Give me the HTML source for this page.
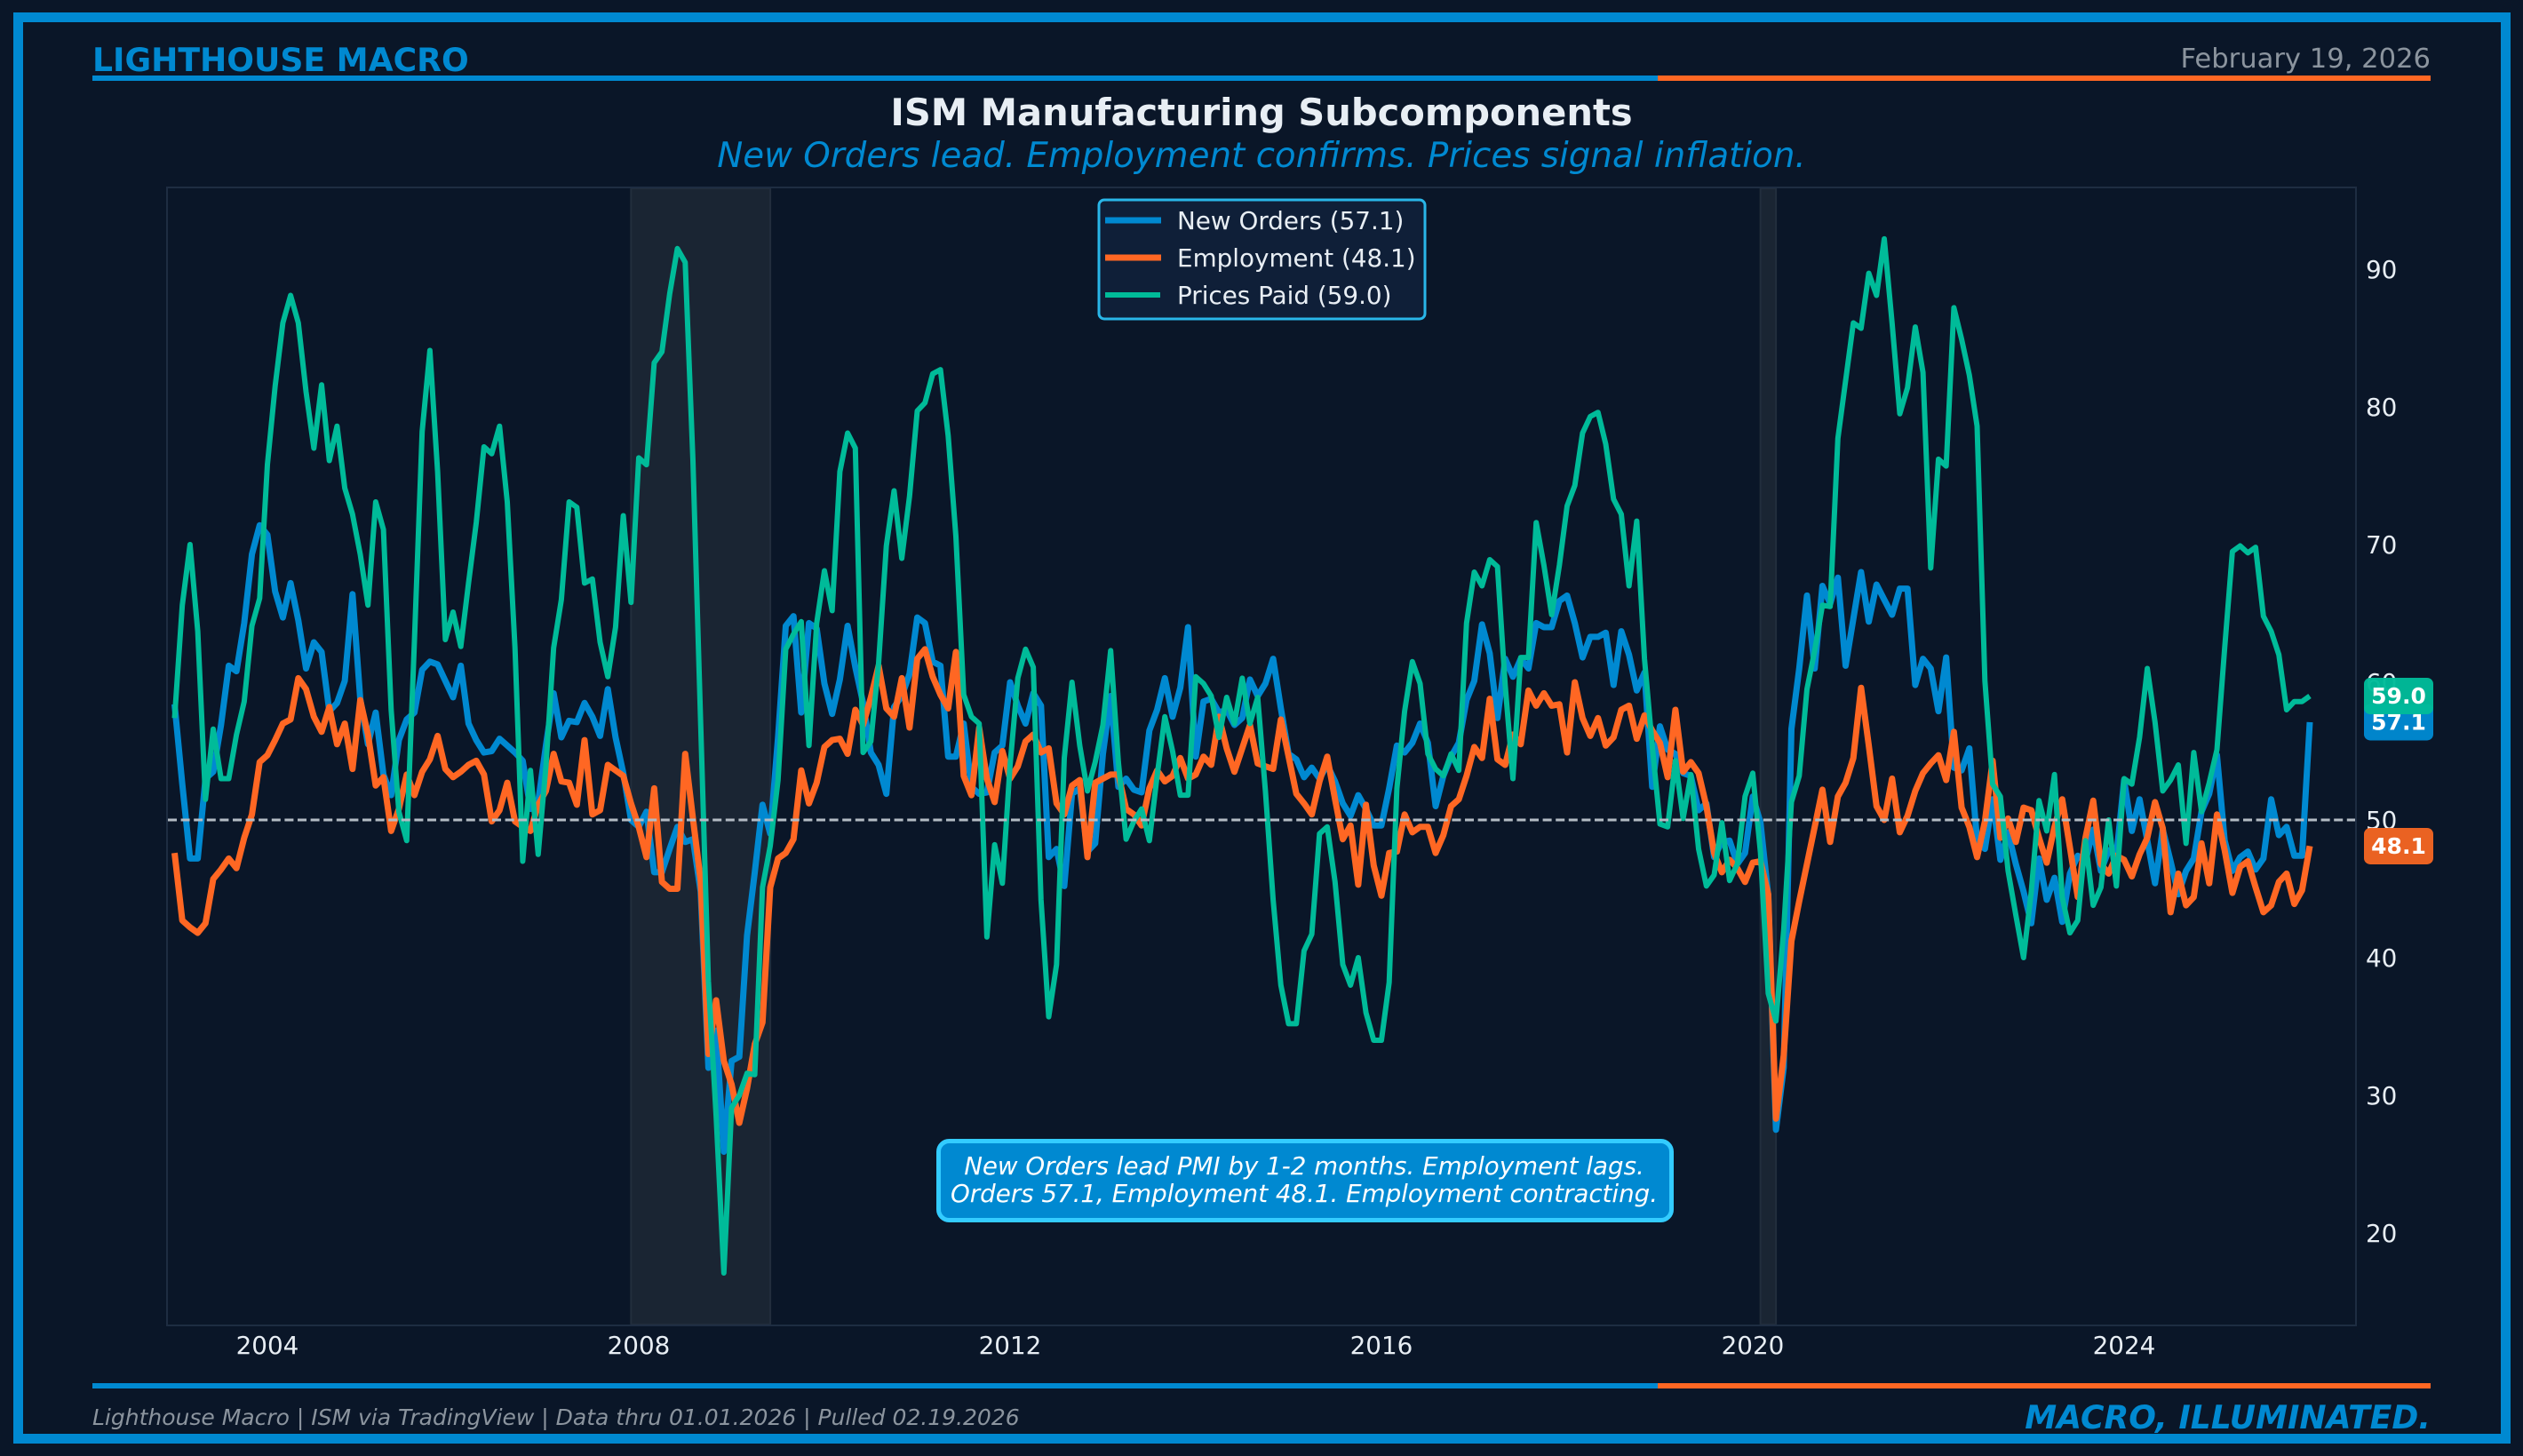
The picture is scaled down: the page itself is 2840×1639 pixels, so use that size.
<!DOCTYPE html>
<html lang="en">
<head>
<meta charset="utf-8">
<title>ISM Manufacturing Subcomponents</title>
<style>
html,body{margin:0;padding:0;background:#0a1628;}
svg{display:block;}
text{font-family:"DejaVu Sans","Liberation Sans",sans-serif;}
</style>
</head>
<body>
<svg id="chart" xmlns="http://www.w3.org/2000/svg" width="2840" height="1639" viewBox="0 0 2840 1639">
  <rect x="0" y="0" width="2840" height="1639" fill="#0a1628"/>
  <rect x="20.5" y="19.5" width="2800" height="1600" fill="none" stroke="#0089d1" stroke-width="11"/>

  <text x="104" y="80" font-size="36.15" font-weight="700" fill="#0089d1">LIGHTHOUSE MACRO</text>
  <text x="2736" y="76" font-size="30.6" text-anchor="end" fill="#8b949e">February 19, 2026</text>
  <rect x="104" y="85" width="1762" height="6" fill="#0089d1"/>
  <rect x="1866" y="85" width="870" height="6" fill="#ff6723"/>

  <text x="1420" y="141" font-size="41.6" font-weight="700" text-anchor="middle" fill="#e8eef4">ISM Manufacturing Subcomponents</text>
  <text x="1420" y="188" font-size="38.8" font-style="italic" text-anchor="middle" fill="#0089d1">New Orders lead. Employment confirms. Prices signal inflation.</text>

  <g id="recessions"></g>
  <rect x="188" y="211" width="2464" height="1281" fill="none" stroke="#1e2d42" stroke-width="2"/>
  <g id="series"></g>
  <g id="reference"></g>
  <g id="x-axis"></g>
  <g id="y-axis"></g>
  <g id="tags"></g>

  <g>
    <rect x="1237" y="225" width="367" height="134" rx="6" fill="#0f1f38" stroke="#29b6e8" stroke-width="3"/>
    <g>
      <line x1="1244" x2="1307" y1="248" y2="248" stroke="#0089d1" stroke-width="7"/>
      <text x="1325" y="258" font-size="27.8" fill="#e8eef4">New Orders (57.1)</text>
    </g>
    <g>
      <line x1="1244" x2="1307" y1="290" y2="290" stroke="#ff6723" stroke-width="7"/>
      <text x="1325" y="300" font-size="27.8" fill="#e8eef4">Employment (48.1)</text>
    </g>
    <g>
      <line x1="1244" x2="1306" y1="332" y2="332" stroke="#00bb99" stroke-width="6"/>
      <text x="1325" y="342" font-size="27.8" fill="#e8eef4">Prices Paid (59.0)</text>
    </g>
  </g>

  <g>
    <rect x="1056.5" y="1284.5" width="825" height="89" rx="12" fill="#0089d1" stroke="#33ccff" stroke-width="5"/>
    <text x="1468" y="1322" font-size="27.7" font-style="italic" text-anchor="middle" fill="#ffffff">New Orders lead PMI by 1-2 months. Employment lags.</text>
    <text x="1468" y="1353" font-size="27.7" font-style="italic" text-anchor="middle" fill="#ffffff">Orders 57.1, Employment 48.1. Employment contracting.</text>
  </g>

  <rect x="104" y="1557" width="1762" height="6" fill="#0089d1"/>
  <rect x="1866" y="1557" width="870" height="6" fill="#ff6723"/>
  <text x="104" y="1604" font-size="25" font-style="italic" fill="#8b949e">Lighthouse Macro | ISM via TradingView | Data thru 01.01.2026 | Pulled 02.19.2026</text>
  <text x="2736" y="1608" font-size="36.1" font-weight="700" font-style="italic" text-anchor="end" fill="#0089d1">MACRO, ILLUMINATED.</text>
</svg>

<script>
const startYear = 2003;
const xTickYears = [2004, 2008, 2012, 2016, 2020, 2024];
const yTickValues = [20, 30, 40, 50, 60, 70, 80, 90];
const referenceLevel = [50];
const recessionStarts = [2007.917, 2020.083];
const recessionEnds = [2009.417, 2020.25];

const newOrders = [
58.4,52.6,47.2,47.2,53,53.5,56.9,61.2,60.8,64.3,
69.3,71.4,70.7,66.6,64.7,67.2,64.5,61,62.9,62.2,
57.9,58.5,60.1,66.4,58.8,55.5,57.8,53.3,51.8,55.8,
57.3,57.8,60.9,61.5,61.3,60.1,58.9,61.2,57,55.8,
54.9,55,55.9,55.4,54.9,54.3,50.8,51.3,55.4,59.2,
56,57.2,57.1,58.5,57.5,56.1,59.5,56,53.4,50,
49.5,50.6,46.2,46.2,47.9,49.5,48.4,48.6,44.8,32,
34.7,25.9,32.5,32.8,41.6,46.2,51.1,49,56,64.1,
64.8,57.8,64.3,63.9,59.9,57.7,60.2,64.1,61.1,58.5,
54.9,54,51.9,58.2,59,60.6,64.7,64.3,61.5,61.2,
54.6,54.6,57,52.4,51.9,52,54.9,55.4,60,58.3,
57,59.2,58.3,47.3,47.9,45.2,51.9,52.3,47.7,48.3,
54.8,59,52.4,53,52.2,52,56.5,58,60.3,57.5,
59.6,64,54.6,58.6,58.8,57.8,58,56.9,57.4,60.2,
59,59.9,61.7,58.1,54.8,54.4,53.1,53.8,53,54,
52.8,51.2,50.3,51.8,50.8,49.6,49.6,52.3,55.4,54.9,
55.6,57,55.6,51,53.2,54.6,55.6,58.7,60.1,64.2,
62.1,57.4,61.7,60.4,61.7,61,64.3,64,64,65.9,
66.3,64.3,61.8,63.3,63.3,63.6,59.8,63.7,62,59.4,
60.7,52.4,56.8,55.1,54.8,53.4,53.2,50.7,51.2,47.3,
48.4,48.5,46.8,47.6,51.7,49.8,44.5,27.5,32,56.6,
61,66.3,61,67,65.7,67.6,61.2,64.6,68,64.4,
67.1,66,64.9,66.8,66.8,59.8,61.7,61,57.9,61.8,
53.8,53.6,55.2,48.5,47.9,51.5,47.1,49.1,46.8,44.8,
42.5,47.2,44.2,45.8,42.6,46.1,47.4,47,49.3,46.3,
47.8,47.4,52.9,49.2,51.5,48.5,45.4,49.3,47,44.6,
46.3,47.2,50.6,51.9,54.7,48.5,46.3,47.3,47.7,46.4,
47.2,51.5,48.9,49.5,47.4,47.4,57.1];

const employment = [
47.6,42.7,42.2,41.8,42.5,45.7,46.4,47.2,46.5,48.7,
50.4,54.2,54.7,55.8,57,57.3,60.3,59.5,57.5,56.4,
58.2,55.5,57,53.7,58.7,56.2,52.5,53.1,49.2,50.8,
53.3,51.8,53.5,54.4,56.1,53.7,53.1,53.5,54,54.3,
53.3,49.9,50.7,52.7,49.9,49.5,49.2,51.1,52.1,54.8,
52.8,52.7,51.1,55.8,50.4,50.7,54,53.6,53.2,51.2,
49.5,47.3,52.3,45.5,45,45,54.8,50.1,45.6,33,
36.9,32.5,30.8,28,30.5,33.7,35.3,45.1,47.2,47.6,
48.6,53.6,51.2,52.7,55.3,55.8,55.9,54.8,58,56.9,
58.9,61.2,58.1,57.5,60.3,56.7,61.7,62.4,60.4,59.1,
58.1,62.2,53.2,51.8,56.7,53,51.3,55,53,53.9,
55.7,56.2,54.9,55.2,51.2,50.4,52.5,52.9,47.3,52.7,
53,53.3,53.3,50.8,50.4,49.6,52.3,53.6,52.8,53.2,
54.5,53,53.3,54.6,54,57.5,55.2,53.5,55.2,56.9,
54.1,53.9,53.7,57.3,54.6,51.9,51.2,50.4,52.8,54.6,
51.5,48.6,49.6,45.3,51.1,46.7,44.5,47.6,47.7,50.4,
49.1,49.5,49.5,47.6,48.9,51,51.5,53.2,55.3,54.5,
58.8,54.4,54,56.2,55.5,59.4,58.3,59.2,58.3,58.4,
54.9,60,57.4,56.1,57.4,55.4,56,58,58.3,55.9,
57.6,56.5,55.6,53.1,58,53.5,54.2,53.4,51,47.6,
46.2,47.1,46.5,45.5,46.9,47,44.6,28.3,32.9,41.2,
44.1,46.8,49.5,52.2,48.4,51.7,52.7,54.5,59.6,55.4,
51,50,53,49.1,50.3,52.1,53.4,54.1,54.7,52.9,
56.4,50.9,49.5,47.3,49.9,54.3,48.7,50.1,48.4,50.9,
50.7,48.7,46.9,49.5,51.5,48,44.4,48.7,51.4,46.8,
46.1,47.4,47.1,45.9,47.5,48.7,51.3,49.4,43.3,46.1,
43.8,44.4,48.3,45.4,50.4,47.8,44.7,46.6,47,45.1,
43.3,43.8,45.5,46.1,43.9,44.9,48.1];

const pricesPaid = [
57.4,65.6,70,63.7,51.5,56.6,53,53,56.2,58.6,
64.1,66.1,75.8,81.5,86.1,88.1,86.1,81.1,77,81.6,
76.1,78.6,74.1,72.2,69.3,65.6,73.1,71.1,58,50.6,
48.5,63,78.2,84.1,75.3,63.1,65.1,62.6,67.2,71.6,
77.1,76.6,78.6,73.1,62.5,47,53.6,47.5,53.9,62.5,
66,73.1,72.7,67.2,67.5,62.9,60.4,64,72.1,65.8,
76.3,75.8,83.2,84,88.2,91.5,90.5,76.1,57,38.3,
28.5,17.1,29.1,30,31.6,31.5,45.1,48.1,52.9,62.4,
63.5,64.4,55.4,64.3,68.1,65.2,75.3,78.1,77,54.9,
55.7,61.4,69.9,73.9,69,73.5,79.7,80.3,82.4,82.7,
77.9,70.6,59.1,57.5,57,41.5,48.2,45.4,54,60.3,
62.4,61.1,44.2,35.7,39.5,54.5,60,55.4,52.1,54.2,
56.9,62.3,54.2,48.6,49.9,50.8,48.5,53.2,57.5,55,
51.8,51.8,60.4,59.9,59,56,58.9,57,60.3,57,
58.9,52.1,44.2,38,35.2,35.2,40.5,41.7,49,49.5,
45.5,39.5,38,40,36,34,34,38.2,52.3,57.9,
61.5,59.9,54.8,53.7,53.2,54.8,53.6,64.3,68,67,
68.9,68.4,59.8,53,61.8,61.8,71.6,68.5,64.9,68.5,
72.8,74.3,78.1,79.3,79.6,77.3,73.3,72.2,67,71.7,
61.7,55.4,49.7,49.5,54.3,50.1,53.3,47.9,45.2,46,
49.8,45.6,46.8,51.7,53.4,47.6,37.4,35.4,42,51.3,
53.2,59.5,62.3,65.6,65.5,77.7,81.9,86.1,85.7,89.7,
88.1,92.2,86.1,79.5,81.4,85.8,82.5,68.3,76.2,75.7,
87.2,84.9,82.3,78.6,60.1,52.6,51.7,46.3,43.1,40,
44.8,51.4,49.2,53.3,44.4,41.8,42.7,48.5,43.8,45.1,
50,45.2,53,52.6,56,61,57.1,52.1,52.9,54,
48.3,54.9,50.6,52.7,55.1,62.5,69.5,69.9,69.4,69.8,
64.8,63.7,62,58,58.6,58.6,59];

const NS = 'http://www.w3.org/2000/svg';
const scaleX = function (year) { return 301 + (year - 2004) * 104.5; };
const scaleY = function (value) { return 923 - (value - 50) * 15.5; };
const make = function (tag, attrs, parent) {
  const el = document.createElementNS(NS, tag);
  Object.keys(attrs).forEach(function (k) { el.setAttribute(k, attrs[k]); });
  parent.appendChild(el);
  return el;
};

const recessionLayer = document.getElementById('recessions');
recessionStarts.forEach(function (start, i) {
  const x0 = scaleX(start);
  const x1 = scaleX(recessionEnds[i]);
  const band = make('rect', {x: x0, y: 212, width: x1 - x0, height: 1279, fill: '#1a2533', stroke: '#222e3d', 'stroke-width': 2}, recessionLayer);
  
  
});

const seriesLayer = document.getElementById('series');
const drawSeries = function (values, name, color, width) {
  const pts = values.map(function (v, i) {
    return scaleX(startYear + i / 12).toFixed(1) + ',' + scaleY(v).toFixed(1);
  }).join(' ');
  const line = make('polyline', {points: pts, fill: 'none', stroke: color, 'stroke-width': width, 'stroke-linejoin': 'round', 'stroke-linecap': 'butt'}, seriesLayer);
  
  
};
drawSeries(newOrders, 'series-new-orders', '#0089d1', 7);
drawSeries(employment, 'series-employment', '#ff6723', 7);
drawSeries(pricesPaid, 'series-prices-paid', '#00bb99', 6);

const referenceLayer = document.getElementById('reference');
referenceLevel.forEach(function (level) {
  const ref = make('line', {x1: 189, x2: 2651, y1: scaleY(level), y2: scaleY(level), stroke: '#b4bcc4', 'stroke-width': 3, 'stroke-dasharray': '10 4.6'}, referenceLayer);
  
  
});

const xLayer = document.getElementById('x-axis');
xTickYears.forEach(function (year) {
  const label = make('text', {x: scaleX(year), y: 1524, 'font-size': 27.8, 'text-anchor': 'middle', fill: '#e8eef4'}, xLayer);
  label.textContent = String(year);
  
  
});

const yLayer = document.getElementById('y-axis');
yTickValues.forEach(function (value) {
  const label = make('text', {x: 2663, y: scaleY(value) + 10, 'font-size': 27.8, fill: '#e8eef4'}, yLayer);
  label.textContent = String(value);
  
  
});

const tagLayer = document.getElementById('tags');
const drawTag = function (values, name, color) {
  const value = values[values.length - 1];
  const cy = scaleY(value);
  const box = make('rect', {x: 2661, y: cy - 20.5, width: 78, height: 41, rx: 7, fill: color, 'fill-opacity': 0.97}, tagLayer);
  
  
  const label = make('text', {x: 2700, y: cy + 8.5, 'font-size': 25, 'font-weight': 700, 'text-anchor': 'middle', fill: '#ffffff'}, tagLayer);
  label.textContent = value.toFixed(1);
  
  
};
drawTag(newOrders, 'tag-new-orders', '#0089d1');
drawTag(employment, 'tag-employment', '#f26522');
drawTag(pricesPaid, 'tag-prices-paid', '#00bb99');
</script>
</body>
</html>
